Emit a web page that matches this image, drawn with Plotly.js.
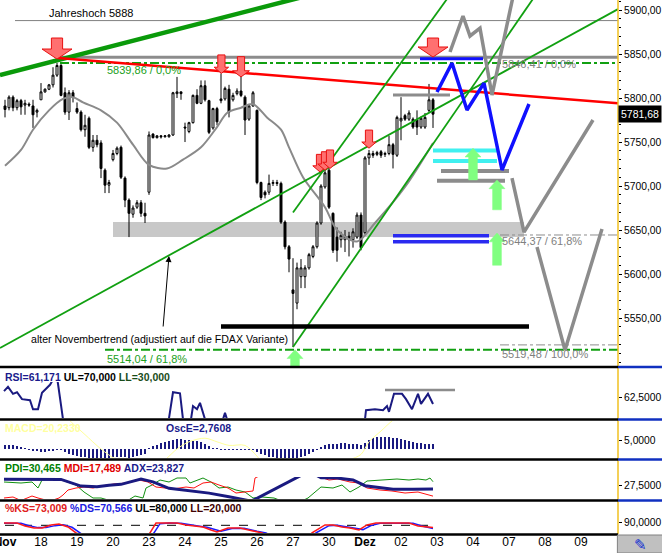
<!DOCTYPE html>
<html><head><meta charset="utf-8">
<script src="https://cdn.plot.ly/plotly-3.0.1.min.js"></script>
<style>html,body{margin:0;padding:0;background:#fff;} #chart{width:662px;height:553px;}</style>
</head><body><div id="chart"></div>
<script>
// ---------- x axis: bar index, 9 bars per trading day ----------
const dayTicks  = [0,9,18,27,36,45,54,63,72,81,90,99,108,117,126,135,144];
const dayLabels = ['<b>Nov</b>','18','19','20','23','24','25','26','27','30','<b>Dez</b>','02','03','04','07','08','09'];

// ---------- FDAX intraday candles ----------
const candleOpen = [5791,5789,5801,5789,5797,5792,5793,5791,5784,
 5798,5807,5810,5815,5826,5837,5806,5784,5806,
 5788,5784,5764,5777,5744,5752,5749,5718,5701,
 5730,5737,5744,5709,5684,5668,5676,5681,5669,
 5693,5759,5755,5757,5756,5756,5758,5805,5807,
 5767,5762,5772,5803,5794,5814,5797,5766,5788,
 5799,5799,5810,5798,5805,5808,5801,5776,5791,
 5786,5704,5693,5693,5703,5704,5703,5659,5631,
 5582,5567,5597,5597,5607,5620,5631,5658,5699,
 5718,5669,5642,5639,5639,5643,5639,5642,5667,
 5647,5732,5737,5736,5739,5736,5737,5747,5735,
 5774,5780,5776,5776,5775,5767,5767,5786,5798];
const candleHigh = [5798,5803,5803,5799,5799,5798,5795,5798,5788,
 5817,5811,5816,5835,5840,5840,5812,5809,5809,
 5795,5786,5781,5779,5758,5758,5752,5720,5707,
 5741,5745,5746,5711,5686,5678,5684,5684,5681,
 5762,5760,5758,5758,5758,5759,5807,5824,5807,
 5772,5773,5804,5810,5820,5820,5798,5789,5790,
 5828,5813,5815,5806,5811,5824,5803,5793,5808,
 5787,5705,5695,5713,5707,5707,5705,5661,5633,
 5618,5613,5617,5610,5624,5633,5660,5702,5720,
 5720,5670,5653,5648,5650,5648,5652,5670,5670,
 5734,5741,5740,5740,5741,5739,5757,5749,5780,
 5801,5782,5786,5778,5786,5779,5783,5816,5800];
const candleLow = [5778,5786,5785,5786,5781,5781,5790,5766,5778,
 5798,5806,5809,5812,5824,5802,5781,5775,5795,
 5782,5762,5756,5742,5739,5744,5709,5692,5692,
 5728,5735,5708,5676,5642,5664,5674,5665,5658,
 5690,5754,5754,5754,5755,5755,5757,5800,5798,
 5750,5760,5771,5793,5793,5796,5759,5764,5769,
 5794,5797,5778,5796,5803,5801,5758,5774,5790,
 5702,5684,5686,5690,5700,5700,5657,5628,5602,
 5517,5560,5584,5584,5605,5618,5629,5656,5697,
 5674,5624,5614,5630,5625,5620,5630,5640,5627,
 5645,5724,5732,5734,5732,5733,5735,5720,5733,
 5752,5774,5774,5765,5758,5765,5765,5784,5766];
const candleClose = [5787,5801,5789,5797,5790,5794,5792,5781,5786,
 5807,5810,5815,5826,5837,5803,5784,5806,5801,
 5784,5764,5769,5744,5752,5747,5720,5701,5704,
 5737,5743,5710,5684,5669,5675,5681,5669,5666,
 5758,5755,5757,5756,5757,5758,5806,5807,5805,
 5766,5772,5803,5794,5814,5798,5761,5788,5773,
 5797,5811,5784,5803,5808,5803,5775,5791,5806,
 5704,5687,5690,5703,5704,5703,5659,5631,5617,
 5578,5607,5607,5607,5622,5631,5658,5700,5715,
 5676,5627,5627,5644,5643,5639,5648,5667,5630,
 5732,5737,5735,5738,5735,5737,5747,5736,5778,
 5777,5776,5783,5767,5767,5777,5778,5798,5781.68];

// moving average (read points)
const maX = [0,4,7,11,14.5,17,19.5,24,28,32,36,40.5,44.5,49,53,55.5,59,62,65.5,69,71,74.5,80,83,88,92.5,100,107];
const maY = [5723,5741,5764,5786,5799,5801,5795,5786,5772,5747,5724,5720,5730,5744,5767,5783,5789,5793,5778,5764,5744,5710,5676,5650,5637,5658,5699,5749];

// trend lines (endpoints)
const thickTrendX = [-1.25,76.25], thickTrendY = [5826,5917];
const redTrendX = [13.25,153.25], redTrendY = [5845.5,5794];
const novTrendX = [-1.25,153.25], novTrendY = [5516,5901];
const steepBX = [72,132.5], steepBY = [5517,5916];
const steepCX = [72,112], steepCY = [5670,5922];

// horizontal levels
const jahreshoch = 5888, jahresX = [2.5,153.25];
const fibTop = 5846.41, fibTopX = [13.75,153.25];
const fibTopGreen = 5839.86;
const fibLowGreen = 5514.04, fibLowGreenX = [25,153.25];
const fib618 = 5644.37, fib100 = 5519.48, fibRightX = [123.75,153.25];
const blueTop = 5844.7, blueTopX = [103.75,119.5];
const greyShort = 5803.4, greyShortX = [97,111.25];
const cyanLevels = [5740.3,5728.4], cyanX = [107,123];
const greyLevels = [5717,5706], greyLevelX0 = [109,108], greyLevelX1 = [126,125];
const blueLevels = [5643.5,5636.7], blueLevelX = [97,121];
const blackLevel = 5540.3, blackLevelX = [54,131];
const zoneX = [27,129.75], zoneY = [5642,5659];

// projections
const blueProjX = [108,111.75,115.5,119.75,124.25,131];
const blueProjY = [5806.8,5839.8,5786.4,5817,5718.2,5793.2];
const greyProjAX = [111.25,114.5,116.25,118.75,121.75,127.25];
const greyProjAY = [5852.3,5893.2,5870.5,5879.5,5803.4,5920.5];
const greyProjBX = [126.75,129.75,147];
const greyProjBY = [5709,5647.7,5775];
const greyProjCX = [133,140,149.25];
const greyProjCY = [5630.7,5513.6,5651.1];

// arrows
const redArrowX   = [13,54.1,59,78.75,80,81.25,91,107];
const redArrowTip = [5844.3,5828,5824,5716,5718,5720,5743,5846.6];
const redArrowTop = [5868.2,5849,5847,5736,5739,5741,5763.6,5868.2];
const redArrowBig = [1,0,0,0,0,0,0,1];
const greenArrowX    = [72.5,117,123,123];
const greenArrowTip  = [5514,5743,5707,5646.6];
const greenArrowBase = [5490,5707,5673,5610];

// ---------- indicators ----------
const rsiX = [-0.25,0.75,2,3,4.25,6.25,7,8.25,9.25,11.25,12.25,13,13.25,14.5,15.25,20,25,30,35,39,41,42,43.75,44.5,45.25,46.5,47,48,48.75,50,50.75,52,54.5,55,55.5,56,60,65,70,75,80,85,89,90,90.25,92.5,94.5,95.5,96,97.25,99.25,100.25,101.75,103.25,104,105.75,107];
const rsiY = [63.6,64.4,63.1,63.4,62.1,61.9,60.2,60.2,63.3,64.8,66.1,66.1,65,58.3,56.3,45,40,38,42,52,58.5,63.4,63.2,58.3,57.2,58.3,60.8,60.2,61.4,58.3,57.2,55,58.3,59.5,58.3,57.2,55,45,35,40,50,52,55,58.3,60.0,60.2,60.0,60.8,59.7,63.1,63.1,62.1,60.2,63.1,61.2,63.1,61.171];
const rsiMarkX = [95,112.5], rsiMark = 63.8;

const oscE = [2.5,2.4,2.2,1.8,1.2,0.6,-0.5,-1.0,-1.3,
 -1.5,-1.4,-1.2,-1.0,-0.8,-0.6,-1.5,-2.5,-3.2,
 -3.8,-4.2,-4.6,-4.8,-4.9,-5.0,-5.0,-4.9,-4.8,
 -4.7,-4.6,-4.6,-4.7,-4.8,-4.6,-4.0,-3.5,-2.5,
 0.5,1.5,2.5,3.2,3.8,4.2,5.0,5.5,5.5,
 5.2,4.8,4.6,4.2,3.8,3.0,1.5,0.8,0.3,
 -0.3,-0.4,-0.5,-0.5,-0.4,-0.3,-0.4,-0.6,-0.8,
 -1.5,-2.8,-3.6,-4.2,-4.6,-5.0,-5.2,-5.4,-5.4,
 -5.2,-5.0,-4.6,-3.8,-2.6,-1.5,-0.5,1.0,2.0,
 2.6,2.8,3.0,3.2,3.2,3.0,2.8,2.6,2.4,
 3.5,5.0,6.0,6.5,6.8,6.8,6.5,6.2,6.0,
 5.5,5.0,4.5,4.0,3.6,3.2,3.0,2.8,2.76];
const macdX = [0,10,14,17,20,24,28,36,40,43,46,50,53,56,60,63,66,72,78,82,86,89,91,94,97,100,107];
const macdY = [22,18,20,14,8,0,-6,-12,-6,0,4,6,4,2,2,-4,-12,-22,-12,-8,-6,-3,4,10,16,20,20.233];

const adxX = [-0.25,5,13,14,19,23,26,29,34,37,41,45,51,56,59,60,61.5,63,67,71,73,75,77,79,83,87,90,97,102,107];
const adxY = [32.6,32.6,32.9,32.5,26.5,26,27.3,28.1,32.9,30.3,24.5,23,20.2,17,15.4,14.8,13,15.5,23,30,33.8,38,38,34,33.8,32,26.9,23.6,23.6,23.827];
const pdiX = [-0.25,4,6.75,8.25,9.25,13.5,17.75,19.75,22,24,26.75,30,32.5,34.5,35.25,36.75,38.75,41,43,45.25,46.25,49.5,51.5,53.5,55.75,57.75,60,62,64.25,67.25,70,73,75.75,79,82,84.25,86.25,88.5,90.5,93.75,98,101,103.25,105.25,106.25,107];
const pdiY = [30.2,29.3,30.2,24.8,32,32.9,27.5,21.2,15.8,15.8,13,12,17.6,15.8,24.8,27.5,32,30.2,33.8,33.8,29.3,33.8,30.2,24.8,25.7,23,21.2,15.8,16.7,15.8,12,11,15.8,25.7,24.8,27.5,21.2,25.7,31.1,32,32.9,32,32.9,32,33.8,30.465];
const mdiX = [-0.25,2,4,6.75,8.25,11.25,13.5,14.5,15.75,17.75,19.75,22,24,27.25,30.5,33.5,35.75,37.75,40,42,45.25,47.25,49.5,51.5,53.5,55.75,57.75,60,62,62.5,65,70,75,79,79.5,81,83.25,86.25,88.5,90.5,93.75,96.75,100,103.25,105.25,107];
const mdiY = [15.8,16.7,13.5,17.6,15.8,13,15.8,18.5,23,24.8,25.7,24.8,26.6,28.4,29.3,32,30.2,25.7,24.8,23.9,25.7,24.8,29.3,30.2,27.5,24.8,20.3,21.2,22.1,33.8,38,42,42,38,33.8,32,32.9,30.2,29.3,24.8,23,22.1,20.3,21.2,19.4,17.489];

const ksX = [-0.25,3,5,7.25,9.25,11.5,13.5,15.75,17.75,20,25,30,34,36.25,37.75,40,43,45.25,47.25,49.5,51.5,53,55.75,58.75,62,64.25,67,70,74,76.75,80,82,84.25,86.25,88.5,90.5,92.75,98,101,103.25,107];
const ksY = [87,87,78,72,72,81,84,75,57,40,20,15,30,57,87,87,87,81,78,75,66,60,72,72,63,57,40,20,10,57,81,81,75,72,66,81,87,87,87,78,73.009];
const dsX = [-0.25,4,6,8.25,10.25,12.5,14.5,16.75,18.75,21,26,31,35,37.25,38.75,41,44,46.25,48.25,50.5,52.5,54,56.75,59.75,63,65.25,68,71,75,77.75,81,83,85.25,87.25,89.5,91.5,93.75,99,102,104.25,107];
const dsY = [86,86,79,73,73,79,82,74,57,38,22,17,32,57,85,87,86,81,78,74,66,62,70,71,62,57,38,22,12,57,79,80,76,72,67,79,86,86,86,78,70.566];
const stochUL = 80, stochULX = [0,107];

// ---------- build ----------
const idx = candleOpen.map((_, i) => i);
const traces = [];
function line(x, y, color, width, axis, dash, shape) {
  traces.push({type:'scatter', mode:'lines', x:x, y:y, yaxis:axis||'y',
    line:{color:color, width:width, dash:dash||'solid', shape:shape||'linear', smoothing:0.9},
    hoverinfo:'skip'});
}
traces.push({type:'candlestick', x:idx, open:candleOpen, high:candleHigh, low:candleLow, close:candleClose,
  increasing:{line:{color:'#000', width:1}, fillcolor:'#fff'},
  decreasing:{line:{color:'#000', width:1}, fillcolor:'#000'},
  whiskerwidth:0, hoverinfo:'skip'});
line(maX, maY, '#8a8a8a', 2, 'y', 'solid', 'spline');
line(jahresX, [jahreshoch, jahreshoch], '#808080', 1);
line(fibTopX, [fibTop, fibTop], '#8c8c8c', 3);
line(fibTopX, [fibTopGreen, fibTopGreen], '#11a011', 2, 'y', 'dashdot');
line(fibLowGreenX, [fibLowGreen, fibLowGreen], '#11a011', 2, 'y', 'dashdot');
line(fibRightX, [fib618, fib618], '#8c8c8c', 1, 'y', 'dashdot');
line(fibRightX, [fib100, fib100], '#8c8c8c', 1, 'y', 'dashdot');
line(thickTrendX, thickTrendY, '#0a9a0a', 4.5);
line(redTrendX, redTrendY, '#ff0000', 2.5);
line(novTrendX, novTrendY, '#11a011', 1.8);
line(steepBX, steepBY, '#11a011', 1.8);
line(steepCX, steepCY, '#11a011', 1.8);
line(blackLevelX, [blackLevel, blackLevel], '#000', 4.5);
blueLevels.forEach(v => line(blueLevelX, [v, v], '#2a2af0', 3.5));
cyanLevels.forEach(v => line(cyanX, [v, v], '#40f0f0', 4));
greyLevels.forEach((v, k) => line([greyLevelX0[k], greyLevelX1[k]], [v, v], '#8c8c8c', 4));
line(greyShortX, [greyShort, greyShort], '#8c8c8c', 3);
line(blueTopX, [blueTop, blueTop], '#1010ff', 3);
line(greyProjAX, greyProjAY, '#8c8c8c', 3.5);
line(greyProjBX, greyProjBY, '#8c8c8c', 3.5);
line(greyProjCX, greyProjCY, '#8c8c8c', 3.5);
line(blueProjX, blueProjY, '#1010ff', 3.5);

// indicators
line(rsiX, rsiY, '#1a1a80', 2, 'y2');
line(rsiMarkX, [rsiMark, rsiMark], '#8c8c8c', 2.5, 'y2');
traces.push({type:'bar', x:idx, y:oscE, yaxis:'y3', width:0.5, marker:{color:'#1a1a80', line:{width:0}}, hoverinfo:'skip'});
line(macdX, macdY, '#ffff99', 1, 'y3', 'solid', 'spline');
line(pdiX, pdiY, '#109010', 1, 'y4');
line(mdiX, mdiY, '#ff1010', 1, 'y4');
line(adxX, adxY, '#1a1a80', 3, 'y4');
line(stochULX, [stochUL, stochUL], '#000', 1, 'y5', 'dash');
line(dsX, dsY, '#1a1aff', 1.5, 'y5');
line(ksX, ksY, '#ff1a1a', 1.5, 'y5');

// shapes
const shapes = [];
shapes.push({type:'rect', xref:'x', yref:'y', x0:zoneX[0], x1:zoneX[1], y0:zoneY[0], y1:zoneY[1],
  fillcolor:'#c8c8c8', line:{width:0}, layer:'below'});
function downArrow(cx, tip, top, big) {
  const hw = big ? 3.75 : (top - tip < 23 ? 1.8 : 2.1), sw = big ? 1.4 : 0.9, hh = big ? 11.4 : 7;
  const n = tip + hh;
  return `M${cx-sw},${top} L${cx+sw},${top} L${cx+sw},${n} L${cx+hw},${n} L${cx},${tip} L${cx-hw},${n} L${cx-sw},${n} Z`;
}
function upArrow(cx, tip, base) {
  const hw = 2.0, sw = 1.1, hh = 10;
  const n = tip - hh;
  return `M${cx-sw},${base} L${cx+sw},${base} L${cx+sw},${n} L${cx+hw},${n} L${cx},${tip} L${cx-hw},${n} L${cx-sw},${n} Z`;
}
redArrowX.forEach((cx, k) => shapes.push({type:'path', xref:'x', yref:'y',
  path:downArrow(cx, redArrowTip[k], redArrowTop[k], redArrowBig[k]),
  fillcolor:'#ff7070', line:{color:'#e81010', width:1}}));
greenArrowX.forEach((cx, k) => shapes.push({type:'path', xref:'x', yref:'y',
  path:upArrow(cx, greenArrowTip[k], greenArrowBase[k]),
  fillcolor:'#80ff80', line:{color:'#80ff80', width:0.5}}));

// frame: right axis line, separators
const H = 534;
const py = p => (H - p) / H;
shapes.push({type:'line', xref:'paper', yref:'paper', x0:1, x1:1, y0:0, y1:1, line:{color:'#f0c020', width:1.5}});
[367, 419.5, 459.5, 500.5].forEach(p => {
  shapes.push({type:'line', xref:'paper', yref:'paper', x0:0, x1:1, y0:py(p), y1:py(p), line:{color:'#000', width:2.5}});
  shapes.push({type:'line', xref:'paper', yref:'paper', x0:1, x1:1.072, y0:py(p), y1:py(p), line:{color:'#1030c0', width:2.5}});
});
shapes.push({type:'line', xref:'paper', yref:'paper', x0:0, x1:1, y0:py(534.5), y1:py(534.5), line:{color:'#000', width:2.5}});
shapes.push({type:'rect', xref:'paper', yref:'paper', x0:0.999, x1:1.075, y0:py(553), y1:py(535), fillcolor:'#c0c0c0', line:{color:'#808080', width:1}});

// annotations
const ann = [];
function txt(x, y, text, color, size, xanchor, yanchor, xref, yref) {
  ann.push({x:x, y:y, xref:xref||'x', yref:yref||'y', text:text, showarrow:false,
    xanchor:xanchor||'left', yanchor:yanchor||'middle', font:{color:color, size:size||11}});
}
txt(10.5, jahreshoch, 'Jahreshoch 5888', '#000', 11, 'left', 'bottom');
txt(25, 5831.8, '5839,86 / 0,0%', '#20a020', 11);
txt(123.75, 5838.6, '5846,41 / 0,0%', '#808080', 11);
txt(123.75, 5637.5, '5644,37 / 61,8%', '#808080', 11);
txt(123.75, 5509, '5519,48 / 100,0%', '#808080', 11);
txt(25, 5503.4, '5514,04 / 61,8%', '#20a020', 11);
txt(6, 5526, 'alter Novembertrend (adjustiert auf die FDAX Variante)', '#000', 10.6);
ann.push({x:41, y:5620.5, xref:'x', yref:'y', text:'', showarrow:true, ax:-6, ay:72,
  arrowhead:2, arrowsize:1.2, arrowwidth:1, arrowcolor:'#000'});
ann.push({x:1, y:5781.68, xref:'paper', yref:'y', text:'5781,68', showarrow:false, xanchor:'left', xshift:0,
  bgcolor:'#000', font:{color:'#fff', size:10.5}, borderpad:2});
txt(0.005, py(377), '<b><span style="color:#1a1a8c">RSI=61,171</span> <span style="color:#000">UL=70,000</span> <span style="color:#1a4d1a">LL=30,000</span></b>', '#000', 10.5, 'left', 'middle', 'paper', 'paper');
txt(0.005, py(428), '<b>MACD=20,2330</b>', '#ffffa0', 10.5, 'left', 'middle', 'paper', 'paper');
txt(0.265, py(428), '<b>OscE=2,7608</b>', '#1a1a8c', 10.5, 'left', 'middle', 'paper', 'paper');
txt(0.005, py(468), '<b><span style="color:#008000">PDI=30,465</span> <span style="color:#e00000">MDI=17,489</span> <span style="color:#1a1a8c">ADX=23,827</span></b>', '#000', 10.5, 'left', 'middle', 'paper', 'paper');
txt(0.005, py(508), '<b><span style="color:#e02020">%KS=73,009</span> <span style="color:#2020e0">%DS=70,566</span> <span style="color:#000">UL=80,000</span> <span style="color:#400000">LL=20,000</span></b>', '#000', 10.5, 'left', 'middle', 'paper', 'paper');
ann.push({x:1.036, y:py(544), xref:'paper', yref:'paper', text:'✎', showarrow:false, xanchor:'center', yanchor:'middle',
  font:{color:'#1030d0', size:15}});

const priceTicks = [5550,5600,5650,5700,5750,5800,5850,5900];
const priceTickText = ['5550,00','5600,00','5650,00','5700,00','5750,00','5800,00','5850,00','5900,00'];
function yax(domain, range, tv, tt) {
  return {domain:domain, range:range, side:'right', tickvals:tv, ticktext:tt, showgrid:false, zeroline:false,
    showline:false, ticks:'outside', ticklen:3, tickcolor:'#000', tickfont:{size:10.3, color:'#000'},
    ticklabelstandoff:0, ticklabeloverflow:'allow', fixedrange:true};
}
const layout = {
  width:662, height:553, margin:{l:0, r:44, t:0, b:19, pad:0},
  paper_bgcolor:'#fff', plot_bgcolor:'#fff', showlegend:false, bargap:0,
  font:{family:'Arial, "Liberation Sans", sans-serif', size:11, color:'#000'},
  xaxis:{range:[-1.25,153.25], anchor:'y5', tickvals:dayTicks, ticktext:dayLabels, ticks:'', showgrid:false,
    zeroline:false, showline:false, tickfont:{size:12, color:'#000'}, ticklabeloverflow:'allow',
    rangeslider:{visible:false}, fixedrange:true},
  yaxis: yax([py(366), 1], [5495.5, 5911.4], priceTicks, priceTickText),
  yaxis2: yax([py(418), py(382)], [58.54, 65.33], [62.5], ['62,5000']),
  yaxis3: yax([py(458), py(421)], [-5, 15.56], [5], ['5,0000']),
  yaxis4: yax([py(499), py(477)], [14.9, 34.7], [27.5], ['27,5000']),
  yaxis5: yax([py(533), py(513)], [56.7, 117.3], [90], ['90,0000']),
  shapes:shapes, annotations:ann
};
layout.yaxis.minor = {ticks:'outside', ticklen:2, dtick:10, tickcolor:'#000'};
['yaxis2','yaxis3','yaxis4','yaxis5'].forEach(k => layout[k].anchor = 'x');
Plotly.newPlot('chart', traces, layout, {staticPlot:true});
</script></body></html>
